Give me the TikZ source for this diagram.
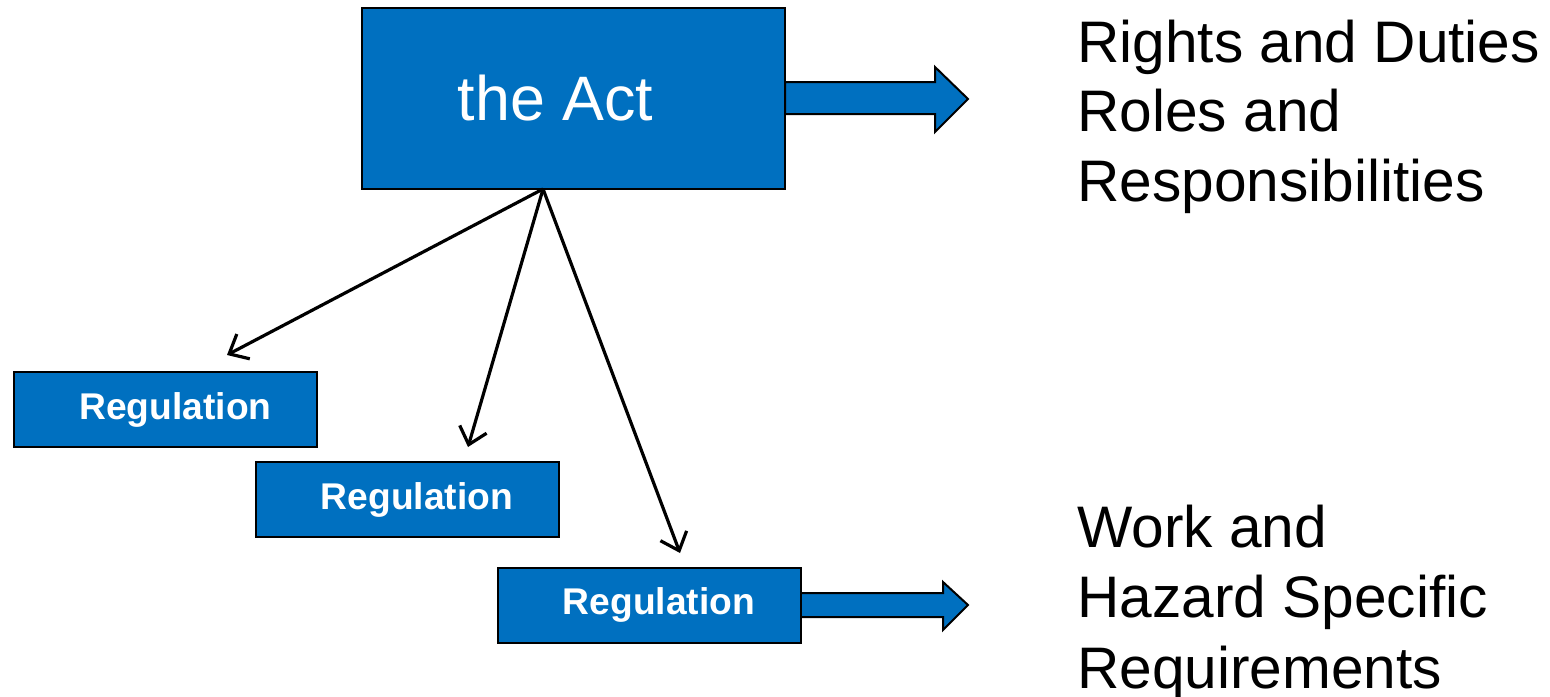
\documentclass[tikz,border=0pt]{standalone}
\usepackage{fontspec}
\setmainfont{Liberation Sans}
\usetikzlibrary{arrows.meta,calc}
\definecolor{actblue}{HTML}{0070C0}
\tikzset{
  bluebox/.style={draw=black, line width=1pt, fill=actblue, text=white, inner sep=0pt, outer sep=0pt},
  regbox/.style={bluebox, minimum width=151.5pt, minimum height=37.5pt, font=\fontsize{18.6}{22}\selectfont\bfseries},
  blockarrow/.style={draw=black, line width=1pt, fill=actblue, line join=miter},
  conn/.style={draw=black, line width=1.6pt, -{Straight Barb[length=8pt,width=14pt,line width=1.6pt]}},
  sidetext/.style={anchor=base west, inner sep=0pt, font=\fontsize{29.3}{34.5}\selectfont}
}
\begin{document}
\begin{tikzpicture}[x=0.5pt,y=-0.5pt]
\useasboundingbox (0,0) rectangle (1550,696);
% block arrows (drawn first, behind boxes)
\draw[blockarrow] (785,82) -- (935,82) -- (935,67) -- (968,99) -- (935,132) -- (935,114) -- (785,114) -- cycle;
\draw[blockarrow] (800,593) -- (943,593) -- (943,582) -- (968,605) -- (943,630) -- (943,617) -- (800,617) -- cycle;
% boxes
\node[bluebox, minimum width=211.5pt, minimum height=90.5pt, font=\fontsize{31.4}{36}\selectfont] (act) at (573.5,98.5) {the Act\hspace*{18pt}};
\node[regbox] (r1) at (165.5,409.5) {\hspace*{10pt}Regulation};
\node[regbox] (r2) at (407,499.5) {\hspace*{10pt}Regulation};
\node[regbox] (r3) at (649,605) {\hspace*{10pt}Regulation};
% connectors
\coordinate (src) at ($(act.south west)!0.428!(act.south east)$);
\coordinate (t1) at (227,355);
\coordinate (t2) at (468,447);
\coordinate (t3) at (680,553);
\draw[conn] (src) -- (t1);
\draw[conn] (src) -- (t2);
\draw[conn] (src) -- (t3);
% side texts
\node[sidetext] (rd1) at (1077,62) {Rights and Duties};
\node[sidetext] (rd2) at (1077,131) {Roles and};
\node[sidetext] (rd3) at (1077,201) {Responsibilities};
\node[sidetext] (wh1) at (1077,547) {Work and};
\node[sidetext] (wh2) at (1077,617) {Hazard Specific};
\node[sidetext] (wh3) at (1077,688) {Requirements};
\end{tikzpicture}
\end{document}
